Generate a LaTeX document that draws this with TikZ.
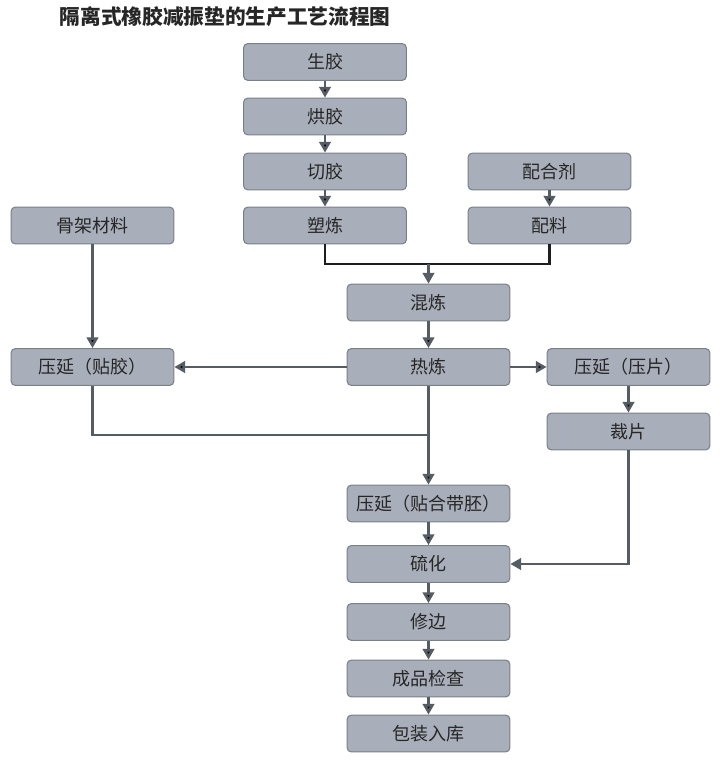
\documentclass[tikz,border=0pt]{standalone}
\usepackage{fontspec}
\newfontfamily\cjk{Noto Sans CJK SC}
\usetikzlibrary{arrows.meta,positioning}
\definecolor{boxfill}{HTML}{A9AFBA}
\definecolor{boxline}{HTML}{7A808A}
\definecolor{flowgray}{HTML}{565C64}
\definecolor{joinblack}{HTML}{1E1E1E}

\begin{document}
\begin{tikzpicture}[
        x=0.75pt, y=-0.75pt,
        every node/.style={font=\cjk\fontsize{13.5}{16}\selectfont, text=black!85},
        box/.style={draw=boxline, fill=boxfill, line width=0.8pt, rounded corners=3pt,
            minimum width=122pt, minimum height=27.5pt, inner sep=0pt},
        flow/.style={draw=flowgray, line width=2.1pt, -{Triangle[length=8pt, width=8.5pt]}},
        plain/.style={draw=flowgray, line width=2.1pt},
        joinline/.style={draw=joinblack, line width=2.1pt}
    ]
        \useasboundingbox (0,0) rectangle (721,774);
        \node (title) at (225,17) {\fontsize{15.5}{18}\selectfont\bfseries 隔离式橡胶减振垫的生产工艺流程图};

        % main column
        \node[box] (raw) at (325,62) {生胶};
        \node[box] (dry) at (325,116.5) {烘胶};
        \node[box] (cut) at (325,171.5) {切胶};
        \node[box] (plast) at (325,225.5) {塑炼};
        \node[box] (agent) at (549.5,171.5) {配合剂};
        \node[box] (batch) at (549.5,225.5) {配料};
        \node[box] (frame) at (92.5,225.5) {骨架材料};
        \node[box] (mix) at (428.5,302.5) {混炼};
        \node[box] (warm) at (428.5,367) {热炼};
        \node[box] (coat) at (92.5,367) {压延（贴胶）};
        \node[box] (sheet) at (628.5,367) {压延（压片）};
        \node[box] (trim) at (628.5,431.5) {裁片};
        \node[box] (blank) at (428.5,503.5) {压延（贴合带胚）};
        \node[box] (cure) at (428.5,564) {硫化};
        \node[box] (edge) at (428.5,622) {修边};
        \node[box] (check) at (428.5,678.5) {成品检查};
        \node[box] (store) at (428.5,733.5) {包装入库};

        \coordinate (merge) at (428.5,264);
        \coordinate (lower) at (428.5,435);

        \path[flow]
            (raw) edge (dry)
            (dry) edge (cut)
            (cut) edge (plast)
            (agent) edge (batch)
            (frame) edge (coat)
            (mix) edge (warm)
            (warm) edge (coat)
            (warm) edge (sheet)
            (sheet) edge (trim)
            (warm) edge (blank)
            (blank) edge (cure)
            (cure) edge (edge)
            (edge) edge (check)
            (check) edge (store);

        \draw[joinline] (plast.south) |- (merge) -| (batch.south);
        \draw[flow] (merge) -- (mix.north);
        \draw[plain] (coat.south) |- (lower);
        \draw[flow] (trim.south) |- (cure.east);
    \end{tikzpicture}
\end{document}
